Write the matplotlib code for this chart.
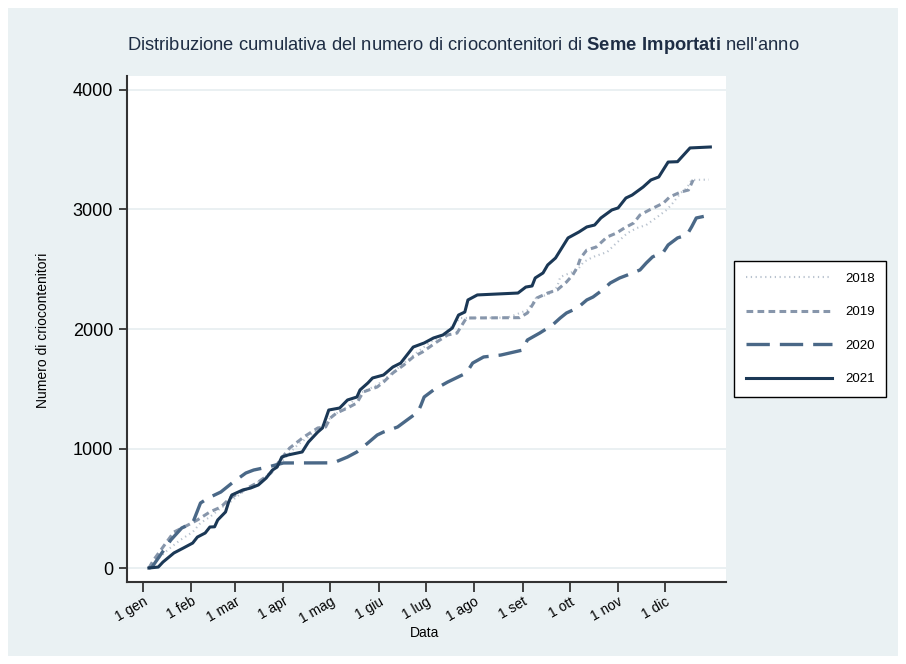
import matplotlib
matplotlib.use('Agg')
import matplotlib.pyplot as plt
from matplotlib.patches import Rectangle

plt.rcParams['font.family'] = ['Liberation Sans', 'DejaVu Sans']
plt.rcParams['mathtext.fontset'] = 'custom'
plt.rcParams['mathtext.rm'] = 'Liberation Sans'
plt.rcParams['mathtext.bf'] = 'Liberation Sans:bold'

# day of year (0 = 1 gen) and cumulative count
days_2018 = [4, 7, 16, 24, 32, 37, 43, 50, 56, 64, 73, 82, 88, 94, 99, 105, 114, 122, 131, 139,
             150, 158, 167, 175, 184, 192, 200, 203, 233, 238, 246, 252, 259, 265, 267, 278, 282,
             288, 297, 303, 310, 316, 322, 329, 335, 339, 344, 348, 351, 362]
vals_2018 = [0, 42, 151, 234, 301, 377, 427, 502, 552, 636, 711, 795, 879, 962, 1029, 1088, 1180,
             1280, 1347, 1464, 1531, 1615, 1715, 1799, 1891, 1950, 2050, 2092, 2095, 2117, 2159,
             2268, 2285, 2351, 2435, 2494, 2561, 2603, 2644, 2720, 2803, 2845, 2870, 2937, 2996,
             3054, 3138, 3180, 3247, 3250]

days_2019 = [4, 7, 20, 29, 35, 43, 50, 56, 67, 73, 82, 88, 94, 103, 112, 117, 120, 124, 131, 137,
             141, 150, 154, 160, 167, 173, 179, 188, 195, 201, 207, 241, 246, 252, 259, 265, 271,
             275, 278, 280, 284, 290, 297, 303, 308, 314, 318, 324, 333, 337, 344, 349, 352]
vals_2019 = [0, 67, 301, 360, 402, 469, 510, 586, 669, 711, 795, 904, 1004, 1096, 1172, 1180, 1255,
             1297, 1339, 1381, 1473, 1515, 1556, 1632, 1699, 1766, 1808, 1891, 1950, 1966, 2092,
             2095, 2134, 2259, 2301, 2326, 2393, 2452, 2519, 2594, 2661, 2686, 2770, 2803, 2845,
             2887, 2954, 2996, 3054, 3105, 3146, 3163, 3247]

days_2020 = [4, 6, 18, 25, 32, 37, 42, 50, 58, 66, 71, 80, 90, 122, 131, 137, 144, 150, 154, 163,
             169, 176, 178, 180, 186, 195, 207, 211, 218, 229, 243, 246, 254, 262, 267, 271, 278,
             284, 288, 294, 299, 305, 310, 318, 322, 326, 333, 336, 342, 348, 351, 354, 363]
vals_2020 = [0, 8, 234, 335, 377, 544, 586, 636, 720, 795, 820, 845, 879, 880, 929, 971, 1046,
             1113, 1138, 1180, 1238, 1305, 1364, 1431, 1490, 1556, 1632, 1715, 1766, 1782, 1824,
             1908, 1967, 2033, 2092, 2134, 2176, 2243, 2268, 2326, 2385, 2427, 2452, 2494, 2552,
             2603, 2644, 2703, 2762, 2787, 2854, 2929, 2954]

days_2021 = [4, 10, 13, 20, 26, 32, 35, 40, 43, 46, 48, 53, 55, 57, 64, 69, 74, 79, 83, 86, 89,
             93, 102, 106, 112, 115, 119, 126, 131, 137, 139, 144, 147, 154, 160, 165, 173, 180,
             186, 192, 198, 202, 206, 208, 214, 240, 245, 249, 251, 256, 259, 264, 268, 272, 279,
             284, 289, 293, 300, 304, 309, 313, 320, 325, 330, 336, 342, 350, 363]
vals_2021 = [0, 8, 50, 126, 167, 209, 259, 293, 343, 345, 402, 469, 552, 611, 653, 669, 695, 753,
             820, 845, 929, 946, 971, 1054, 1138, 1172, 1322, 1339, 1406, 1431, 1490, 1548, 1590,
             1615, 1682, 1715, 1849, 1883, 1925, 1950, 2008, 2117, 2142, 2243, 2285, 2301, 2351,
             2360, 2427, 2469, 2536, 2594, 2678, 2762, 2812, 2854, 2870, 2929, 2996, 3013, 3096,
             3121, 3188, 3247, 3272, 3397, 3400, 3515, 3523]

month_starts = [0, 31, 59, 90, 120, 151, 181, 212, 243, 273, 304, 334]
month_labels = ['1 gen', '1 feb', '1 mar', '1 apr', '1 mag', '1 giu',
                '1 lug', '1 ago', '1 set', '1 ott', '1 nov', '1 dic']

fig = plt.figure(figsize=(9.06, 6.64), dpi=100, facecolor='white')
fig.patches.append(Rectangle((8 / 906, 8 / 664), 890 / 906, 648 / 664,
                             transform=fig.transFigure, facecolor='#eaf1f3',
                             edgecolor='none', zorder=-10))

ax = fig.add_axes([127 / 906, 1 - 582 / 664, 599 / 906, 506 / 664])
ax.set_facecolor('white')

ax.plot(days_2018, vals_2018, color='#b8c2ce', lw=1.5, dashes=(0.6, 1.7), label='2018')
ax.plot(days_2019, vals_2019, color='#8796ab', lw=2.2, dashes=(2.2, 1.4), label='2019')
ax.plot(days_2020, vals_2020, color='#4a6887', lw=2.4, dashes=(7, 3), label='2020')
ax.plot(days_2021, vals_2021, color='#1b3856', lw=2.2, label='2021')

ax.set_xlim(-10, 373)
ax.set_ylim(-117, 4117)
ax.set_yticks([0, 1000, 2000, 3000, 4000])
ax.set_xticks(month_starts)
ax.set_xticklabels(month_labels, rotation=30, ha='right', va='top', rotation_mode='anchor')
ax.tick_params(axis='y', labelsize=13, length=6, width=1.3, color='#333333', pad=4)
ax.tick_params(axis='x', labelsize=10, length=7, width=1.3, color='#333333', pad=2)
ax.grid(axis='y', color='#e6eef0', lw=1.2)
ax.set_axisbelow(True)
for side in ['top', 'right']:
    ax.spines[side].set_visible(False)
for side in ['left', 'bottom']:
    ax.spines[side].set_color('#333333')
    ax.spines[side].set_linewidth(1.5)

fig.text(463 / 906, 1 - 45 / 664,
         r"Distribuzione cumulativa del numero di criocontenitori di $\bf{Seme\ Importati}$ nell'anno",
         ha='center', va='center', fontsize=13.2, color='#1e2d44')
fig.text(43 / 906, 1 - 330 / 664, 'Numero di criocontenitori', rotation=90,
         ha='center', va='center', fontsize=10)
fig.text(425 / 906, 1 - 633 / 664, 'Data', ha='center', va='center', fontsize=10)

leg = fig.legend(loc='upper left', bbox_to_anchor=(734 / 906, 1 - 261 / 664),
                 fontsize=9.5, handlelength=6.5, handletextpad=1.0, labelspacing=1.6,
                 borderpad=0.9, borderaxespad=0, frameon=True, fancybox=False,
                 edgecolor='black', framealpha=1)
leg.get_frame().set_linewidth(1.0)

fig.savefig('out.png', dpi=100, facecolor=fig.get_facecolor())
